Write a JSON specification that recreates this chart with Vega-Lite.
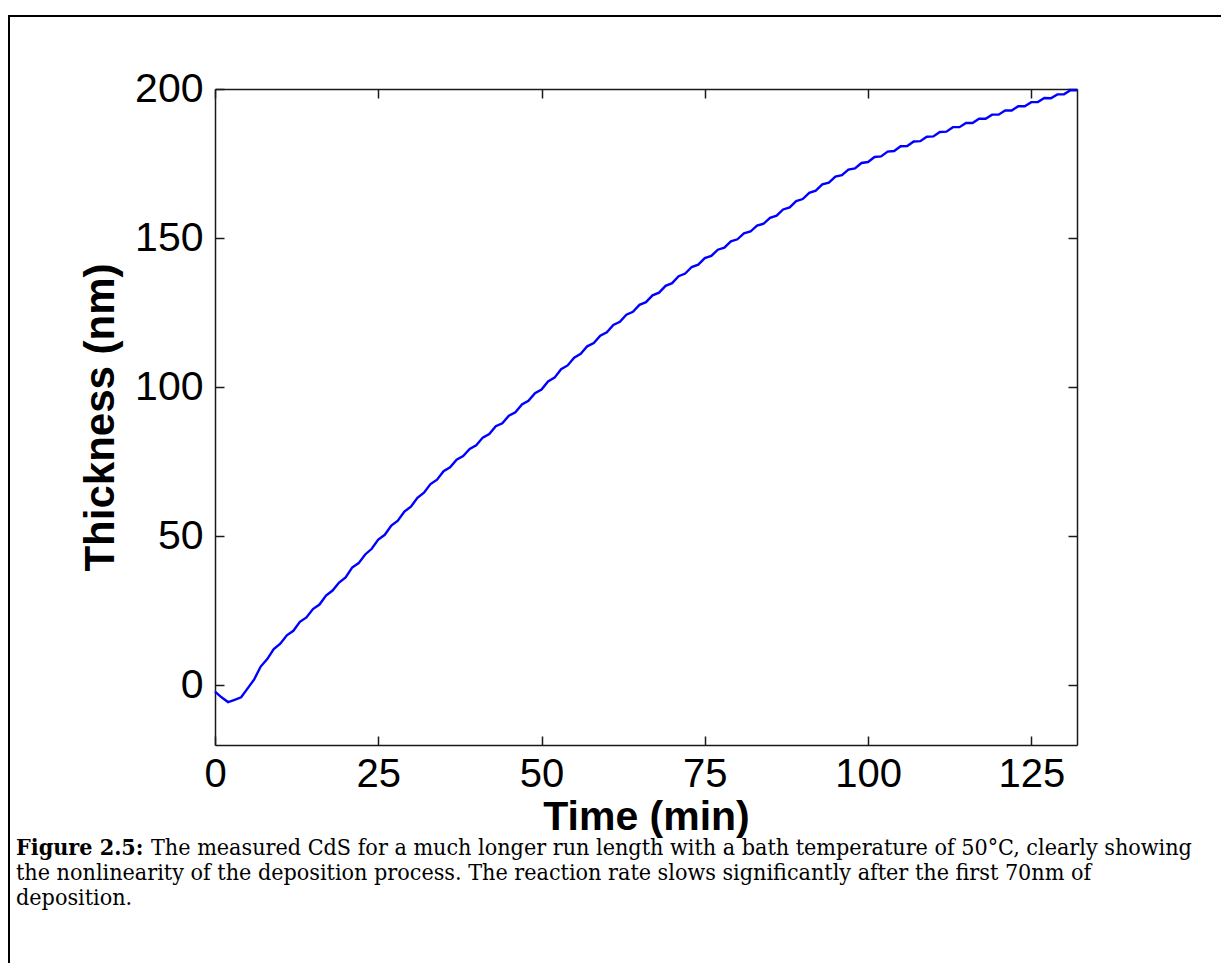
{
  "$schema": "https://vega.github.io/schema/vega-lite/v6.json",
  "width": 1220,
  "height": 952,
  "padding": {"left": 9, "top": 16, "right": 0, "bottom": 0},
  "autosize": {"type": "none"},
  "background": "white",
  "config": {
    "view": {"stroke": "#000", "strokeWidth": 2},
    "font": "Liberation Sans",
    "axis": {
      "grid": false,
      "domainColor": "#1a1a1a",
      "domainWidth": 1.5,
      "tickColor": "#1a1a1a",
      "tickWidth": 1.5,
      "tickSize": -9,
      "labelColor": "#000",
      "labelFont": "Liberation Sans",
      "labelFontSize": 41,
      "labelPadding": 21,
      "labelFlush": false,
      "titleColor": "#000",
      "titleFont": "Liberation Sans",
      "titleFontSize": 42,
      "titleFontWeight": "bold"
    }
  },
  "datasets": {
    "thickness": [
      {"time": 0, "thickness": -2.1}, {"time": 1, "thickness": -4.0}, {"time": 2, "thickness": -5.6}, {"time": 3, "thickness": -4.9},
      {"time": 4, "thickness": -4.0}, {"time": 5, "thickness": -1.0}, {"time": 6, "thickness": 2.0}, {"time": 7, "thickness": 6.3},
      {"time": 8, "thickness": 8.8}, {"time": 9, "thickness": 12.2}, {"time": 10, "thickness": 14.0}, {"time": 11, "thickness": 16.8},
      {"time": 12, "thickness": 18.3}, {"time": 13, "thickness": 21.3}, {"time": 14, "thickness": 22.8}, {"time": 15, "thickness": 25.6},
      {"time": 16, "thickness": 27.1}, {"time": 17, "thickness": 30.1}, {"time": 18, "thickness": 31.8}, {"time": 19, "thickness": 34.5},
      {"time": 20, "thickness": 36.2}, {"time": 21, "thickness": 39.5}, {"time": 22, "thickness": 41.0}, {"time": 23, "thickness": 43.9},
      {"time": 24, "thickness": 45.8}, {"time": 25, "thickness": 48.9}, {"time": 26, "thickness": 50.5}, {"time": 27, "thickness": 53.6},
      {"time": 28, "thickness": 55.2}, {"time": 29, "thickness": 58.3}, {"time": 30, "thickness": 59.9}, {"time": 31, "thickness": 62.9},
      {"time": 32, "thickness": 64.6}, {"time": 33, "thickness": 67.5}, {"time": 34, "thickness": 69.0}, {"time": 35, "thickness": 71.8},
      {"time": 36, "thickness": 73.1}, {"time": 37, "thickness": 75.7}, {"time": 38, "thickness": 76.9}, {"time": 39, "thickness": 79.3},
      {"time": 40, "thickness": 80.5}, {"time": 41, "thickness": 83.1}, {"time": 42, "thickness": 84.3}, {"time": 43, "thickness": 86.9},
      {"time": 44, "thickness": 87.9}, {"time": 45, "thickness": 90.4}, {"time": 46, "thickness": 91.6}, {"time": 47, "thickness": 94.2},
      {"time": 48, "thickness": 95.4}, {"time": 49, "thickness": 98.0}, {"time": 50, "thickness": 99.2}, {"time": 51, "thickness": 101.9},
      {"time": 52, "thickness": 103.2}, {"time": 53, "thickness": 106.0}, {"time": 54, "thickness": 107.3}, {"time": 55, "thickness": 109.9},
      {"time": 56, "thickness": 111.2}, {"time": 57, "thickness": 113.7}, {"time": 58, "thickness": 114.8}, {"time": 59, "thickness": 117.3},
      {"time": 60, "thickness": 118.4}, {"time": 61, "thickness": 120.9}, {"time": 62, "thickness": 121.9}, {"time": 63, "thickness": 124.3},
      {"time": 64, "thickness": 125.3}, {"time": 65, "thickness": 127.6}, {"time": 66, "thickness": 128.5}, {"time": 67, "thickness": 130.8},
      {"time": 68, "thickness": 131.7}, {"time": 69, "thickness": 134.0}, {"time": 70, "thickness": 134.9}, {"time": 71, "thickness": 137.2},
      {"time": 72, "thickness": 138.1}, {"time": 73, "thickness": 140.3}, {"time": 74, "thickness": 141.1}, {"time": 75, "thickness": 143.3},
      {"time": 76, "thickness": 144.0}, {"time": 77, "thickness": 146.1}, {"time": 78, "thickness": 146.8}, {"time": 79, "thickness": 148.9},
      {"time": 80, "thickness": 149.6}, {"time": 81, "thickness": 151.6}, {"time": 82, "thickness": 152.2}, {"time": 83, "thickness": 154.2},
      {"time": 84, "thickness": 154.8}, {"time": 85, "thickness": 156.8}, {"time": 86, "thickness": 157.5}, {"time": 87, "thickness": 159.6},
      {"time": 88, "thickness": 160.3}, {"time": 89, "thickness": 162.4}, {"time": 90, "thickness": 163.1}, {"time": 91, "thickness": 165.2},
      {"time": 92, "thickness": 165.9}, {"time": 93, "thickness": 168.0}, {"time": 94, "thickness": 168.6}, {"time": 95, "thickness": 170.6},
      {"time": 96, "thickness": 171.1}, {"time": 97, "thickness": 173.0}, {"time": 98, "thickness": 173.4}, {"time": 99, "thickness": 175.2},
      {"time": 100, "thickness": 175.5}, {"time": 101, "thickness": 177.2}, {"time": 102, "thickness": 177.4}, {"time": 103, "thickness": 179.0},
      {"time": 104, "thickness": 179.2}, {"time": 105, "thickness": 180.8}, {"time": 106, "thickness": 180.9}, {"time": 107, "thickness": 182.4},
      {"time": 108, "thickness": 182.5}, {"time": 109, "thickness": 184.0}, {"time": 110, "thickness": 184.1}, {"time": 111, "thickness": 185.6},
      {"time": 112, "thickness": 185.7}, {"time": 113, "thickness": 187.2}, {"time": 114, "thickness": 187.2}, {"time": 115, "thickness": 188.6},
      {"time": 116, "thickness": 188.6}, {"time": 117, "thickness": 190.0}, {"time": 118, "thickness": 190.0}, {"time": 119, "thickness": 191.4},
      {"time": 120, "thickness": 191.4}, {"time": 121, "thickness": 192.8}, {"time": 122, "thickness": 192.8}, {"time": 123, "thickness": 194.2},
      {"time": 124, "thickness": 194.2}, {"time": 125, "thickness": 195.6}, {"time": 126, "thickness": 195.6}, {"time": 127, "thickness": 197.0},
      {"time": 128, "thickness": 196.9}, {"time": 129, "thickness": 198.2}, {"time": 130, "thickness": 198.2}, {"time": 131, "thickness": 199.6},
      {"time": 132, "thickness": 199.6}
    ],
    "caption": [
      {"line": 1, "part": "label", "text": "Figure 2.5:"},
      {"line": 1, "part": "lead", "text": "The measured CdS for a much longer run length with a bath temperature of 50°C, clearly showing"},
      {"line": 2, "part": "body", "text": "the nonlinearity of the deposition process.  The reaction rate slows significantly after the first 70nm of"},
      {"line": 3, "part": "body", "text": "deposition."}
    ]
  },
  "resolve": {
    "scale": {"x": "independent", "y": "independent"},
    "axis": {"x": "independent", "y": "independent"}
  },
  "layer": [
    {
      "data": {"name": "thickness"},
      "mark": {"type": "line", "color": "#0000ff", "strokeWidth": 2.4},
      "encoding": {
        "x": {
          "field": "time", "type": "quantitative",
          "scale": {"domain": [0, 132], "range": [206, 1068], "nice": false, "zero": false},
          "axis": {"orient": "bottom", "offset": -223, "values": [0, 25, 50, 75, 100, 125], "labelFontSize": 40, "labelPadding": 18, "title": "Time (min)", "titleFontSize": 41, "titlePadding": 3}
        },
        "y": {
          "field": "thickness", "type": "quantitative",
          "scale": {"domain": [-20, 200], "range": [729, 73], "nice": false, "zero": false},
          "axis": {"orient": "left", "offset": -206, "values": [0, 50, 100, 150, 200], "title": "Thickness (nm)", "titlePadding": 12}
        }
      }
    },
    {
      "data": {"name": "thickness"},
      "mark": {"type": "line", "opacity": 0},
      "encoding": {
        "x": {
          "field": "time", "type": "quantitative",
          "scale": {"domain": [0, 132], "range": [206, 1068], "nice": false, "zero": false},
          "axis": {"orient": "top", "offset": -73, "values": [0, 25, 50, 75, 100, 125], "labels": false, "title": null}
        },
        "y": {
          "field": "thickness", "type": "quantitative",
          "scale": {"domain": [-20, 200], "range": [729, 73], "nice": false, "zero": false},
          "axis": {"orient": "right", "offset": -152, "values": [0, 50, 100, 150, 200], "labels": false, "title": null}
        }
      }
    },
    {
      "data": {"name": "caption"},
      "encoding": {
        "x": {"datum": 0, "type": "quantitative", "scale": {"domain": [0, 1], "range": [7, 1207]}, "axis": null},
        "y": {"field": "line", "type": "ordinal", "scale": {"type": "point", "domain": [1, 2, 3], "range": [839, 889], "padding": 0}, "axis": null},
        "text": {"field": "text"}
      },
      "layer": [
        {
          "transform": [{"filter": "datum.part === 'label'"}],
          "mark": {"type": "text", "align": "left", "baseline": "alphabetic", "font": "DejaVu Serif Condensed, Liberation Serif", "fontSize": 23.1, "fontWeight": "bold", "color": "#000"}
        },
        {
          "transform": [{"filter": "datum.part === 'lead'"}],
          "mark": {"type": "text", "align": "left", "baseline": "alphabetic", "font": "DejaVu Serif Condensed, Liberation Serif", "fontSize": 23.1, "color": "#000", "dx": 135}
        },
        {
          "transform": [{"filter": "datum.part === 'body'"}],
          "mark": {"type": "text", "align": "left", "baseline": "alphabetic", "font": "DejaVu Serif Condensed, Liberation Serif", "fontSize": 23.1, "color": "#000"}
        }
      ]
    }
  ]
}
